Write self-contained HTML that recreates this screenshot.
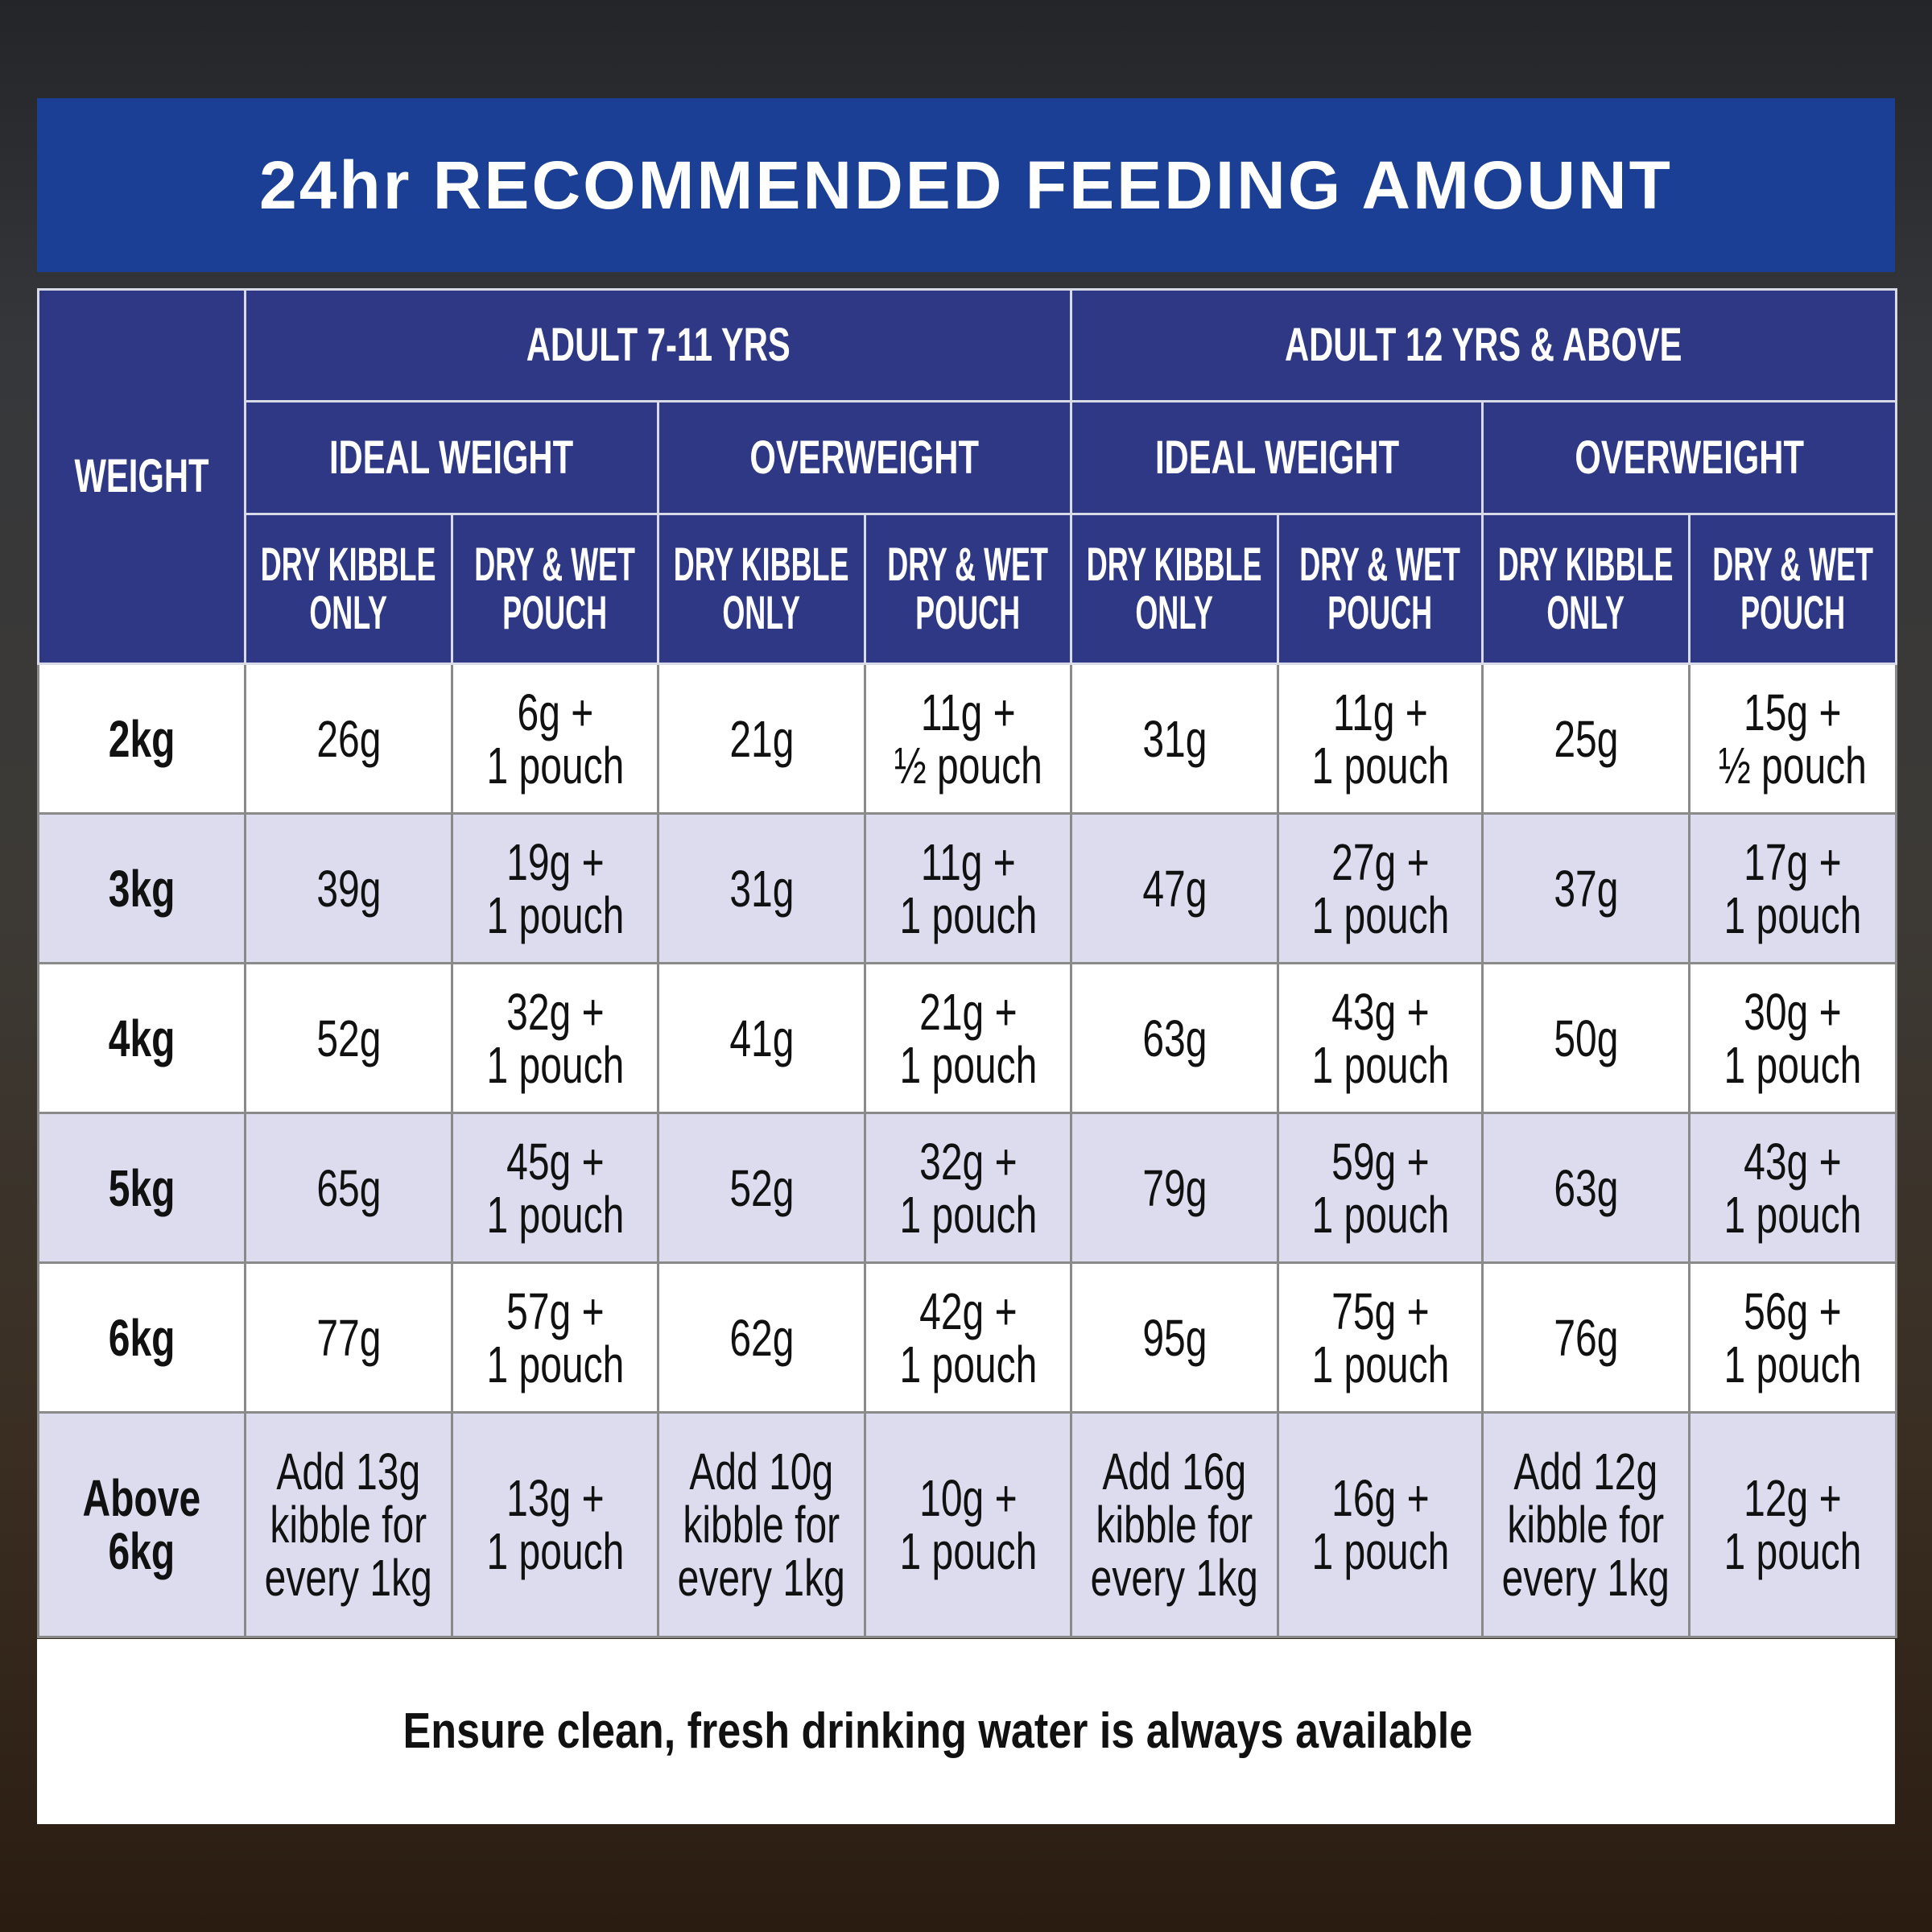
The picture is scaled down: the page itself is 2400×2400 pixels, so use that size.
<!DOCTYPE html>
<html><head><meta charset="utf-8"><style>
html,body{margin:0;padding:0}
body{width:2400px;height:2400px;position:relative;overflow:hidden;
background:linear-gradient(180deg,#232529 0%,#35373b 18%,#3d3a36 45%,#3a2e22 75%,#2a1c10 100%);
font-family:"Liberation Sans",sans-serif;}
.title{position:absolute;left:46px;top:122px;width:2308px;height:216px;background:#1b3f94;color:#fff;
font-weight:bold;font-size:84px;text-align:center;line-height:216px;letter-spacing:3px}
table{position:absolute;left:46px;top:358px;width:2308px;border-collapse:collapse;table-layout:fixed}
td{border:3px solid #8a8a8a;text-align:center;vertical-align:middle;font-size:64px;line-height:66px;color:#111;padding:0;white-space:nowrap}
td span{display:inline-block;margin:0 -200px;transform:scaleX(.75);white-space:nowrap}
td.h{background:#2e3884;color:#fff;border-color:#d8dae8;font-size:58px;line-height:60px;font-weight:bold}
td.h span{transform:scaleX(.72)}
td.h span.s{transform:scaleX(.62)}
td.w{font-weight:bold}
tr.a td{background:#fff}
tr.b td{background:#dcdcee}
.foot{position:absolute;left:46px;top:2036px;width:2308px;height:230px;background:#fff;text-align:center;
font-weight:bold;font-size:62px;line-height:230px;color:#111}
.foot span{display:inline-block;transform:scaleX(.84);white-space:nowrap;margin:0 -300px;position:relative;left:-35px}
</style></head><body>
<div class="title">24hr RECOMMENDED FEEDING AMOUNT</div>
<table>
<colgroup><col style="width:257px"><col style="width:257px"><col style="width:256px"><col style="width:257px"><col style="width:256px"><col style="width:257px"><col style="width:254px"><col style="width:257px"><col style="width:257px"></colgroup>
<tr style="height:139px"><td class="h" rowspan="3"><span>WEIGHT</span></td><td class="h" colspan="4"><span>ADULT 7-11 YRS</span></td><td class="h" colspan="4"><span>ADULT 12 YRS &amp; ABOVE</span></td></tr>
<tr style="height:140px"><td class="h" colspan="2"><span>IDEAL WEIGHT</span></td><td class="h" colspan="2"><span>OVERWEIGHT</span></td><td class="h" colspan="2"><span>IDEAL WEIGHT</span></td><td class="h" colspan="2"><span>OVERWEIGHT</span></td></tr>
<tr style="height:186px"><td class="h"><span class="s">DRY KIBBLE<br>ONLY</span></td><td class="h"><span class="s">DRY &amp; WET<br>POUCH</span></td><td class="h"><span class="s">DRY KIBBLE<br>ONLY</span></td><td class="h"><span class="s">DRY &amp; WET<br>POUCH</span></td><td class="h"><span class="s">DRY KIBBLE<br>ONLY</span></td><td class="h"><span class="s">DRY &amp; WET<br>POUCH</span></td><td class="h"><span class="s">DRY KIBBLE<br>ONLY</span></td><td class="h"><span class="s">DRY &amp; WET<br>POUCH</span></td></tr>
<tr class="a" style="height:186px"><td class="w"><span>2kg</span></td><td><span>26g</span></td><td><span>6g +<br>1 pouch</span></td><td><span>21g</span></td><td><span>11g +<br>½ pouch</span></td><td><span>31g</span></td><td><span>11g +<br>1 pouch</span></td><td><span>25g</span></td><td><span>15g +<br>½ pouch</span></td></tr>
<tr class="b" style="height:186px"><td class="w"><span>3kg</span></td><td><span>39g</span></td><td><span>19g +<br>1 pouch</span></td><td><span>31g</span></td><td><span>11g +<br>1 pouch</span></td><td><span>47g</span></td><td><span>27g +<br>1 pouch</span></td><td><span>37g</span></td><td><span>17g +<br>1 pouch</span></td></tr>
<tr class="a" style="height:186px"><td class="w"><span>4kg</span></td><td><span>52g</span></td><td><span>32g +<br>1 pouch</span></td><td><span>41g</span></td><td><span>21g +<br>1 pouch</span></td><td><span>63g</span></td><td><span>43g +<br>1 pouch</span></td><td><span>50g</span></td><td><span>30g +<br>1 pouch</span></td></tr>
<tr class="b" style="height:186px"><td class="w"><span>5kg</span></td><td><span>65g</span></td><td><span>45g +<br>1 pouch</span></td><td><span>52g</span></td><td><span>32g +<br>1 pouch</span></td><td><span>79g</span></td><td><span>59g +<br>1 pouch</span></td><td><span>63g</span></td><td><span>43g +<br>1 pouch</span></td></tr>
<tr class="a" style="height:186px"><td class="w"><span>6kg</span></td><td><span>77g</span></td><td><span>57g +<br>1 pouch</span></td><td><span>62g</span></td><td><span>42g +<br>1 pouch</span></td><td><span>95g</span></td><td><span>75g +<br>1 pouch</span></td><td><span>76g</span></td><td><span>56g +<br>1 pouch</span></td></tr>
<tr class="b" style="height:279px"><td class="w"><span>Above<br>6kg</span></td><td><span>Add 13g<br>kibble for<br>every 1kg</span></td><td><span>13g +<br>1 pouch</span></td><td><span>Add 10g<br>kibble for<br>every 1kg</span></td><td><span>10g +<br>1 pouch</span></td><td><span>Add 16g<br>kibble for<br>every 1kg</span></td><td><span>16g +<br>1 pouch</span></td><td><span>Add 12g<br>kibble for<br>every 1kg</span></td><td><span>12g +<br>1 pouch</span></td></tr>
</table>
<div class="foot"><span>Ensure clean, fresh drinking water is always available</span></div>
</body></html>
